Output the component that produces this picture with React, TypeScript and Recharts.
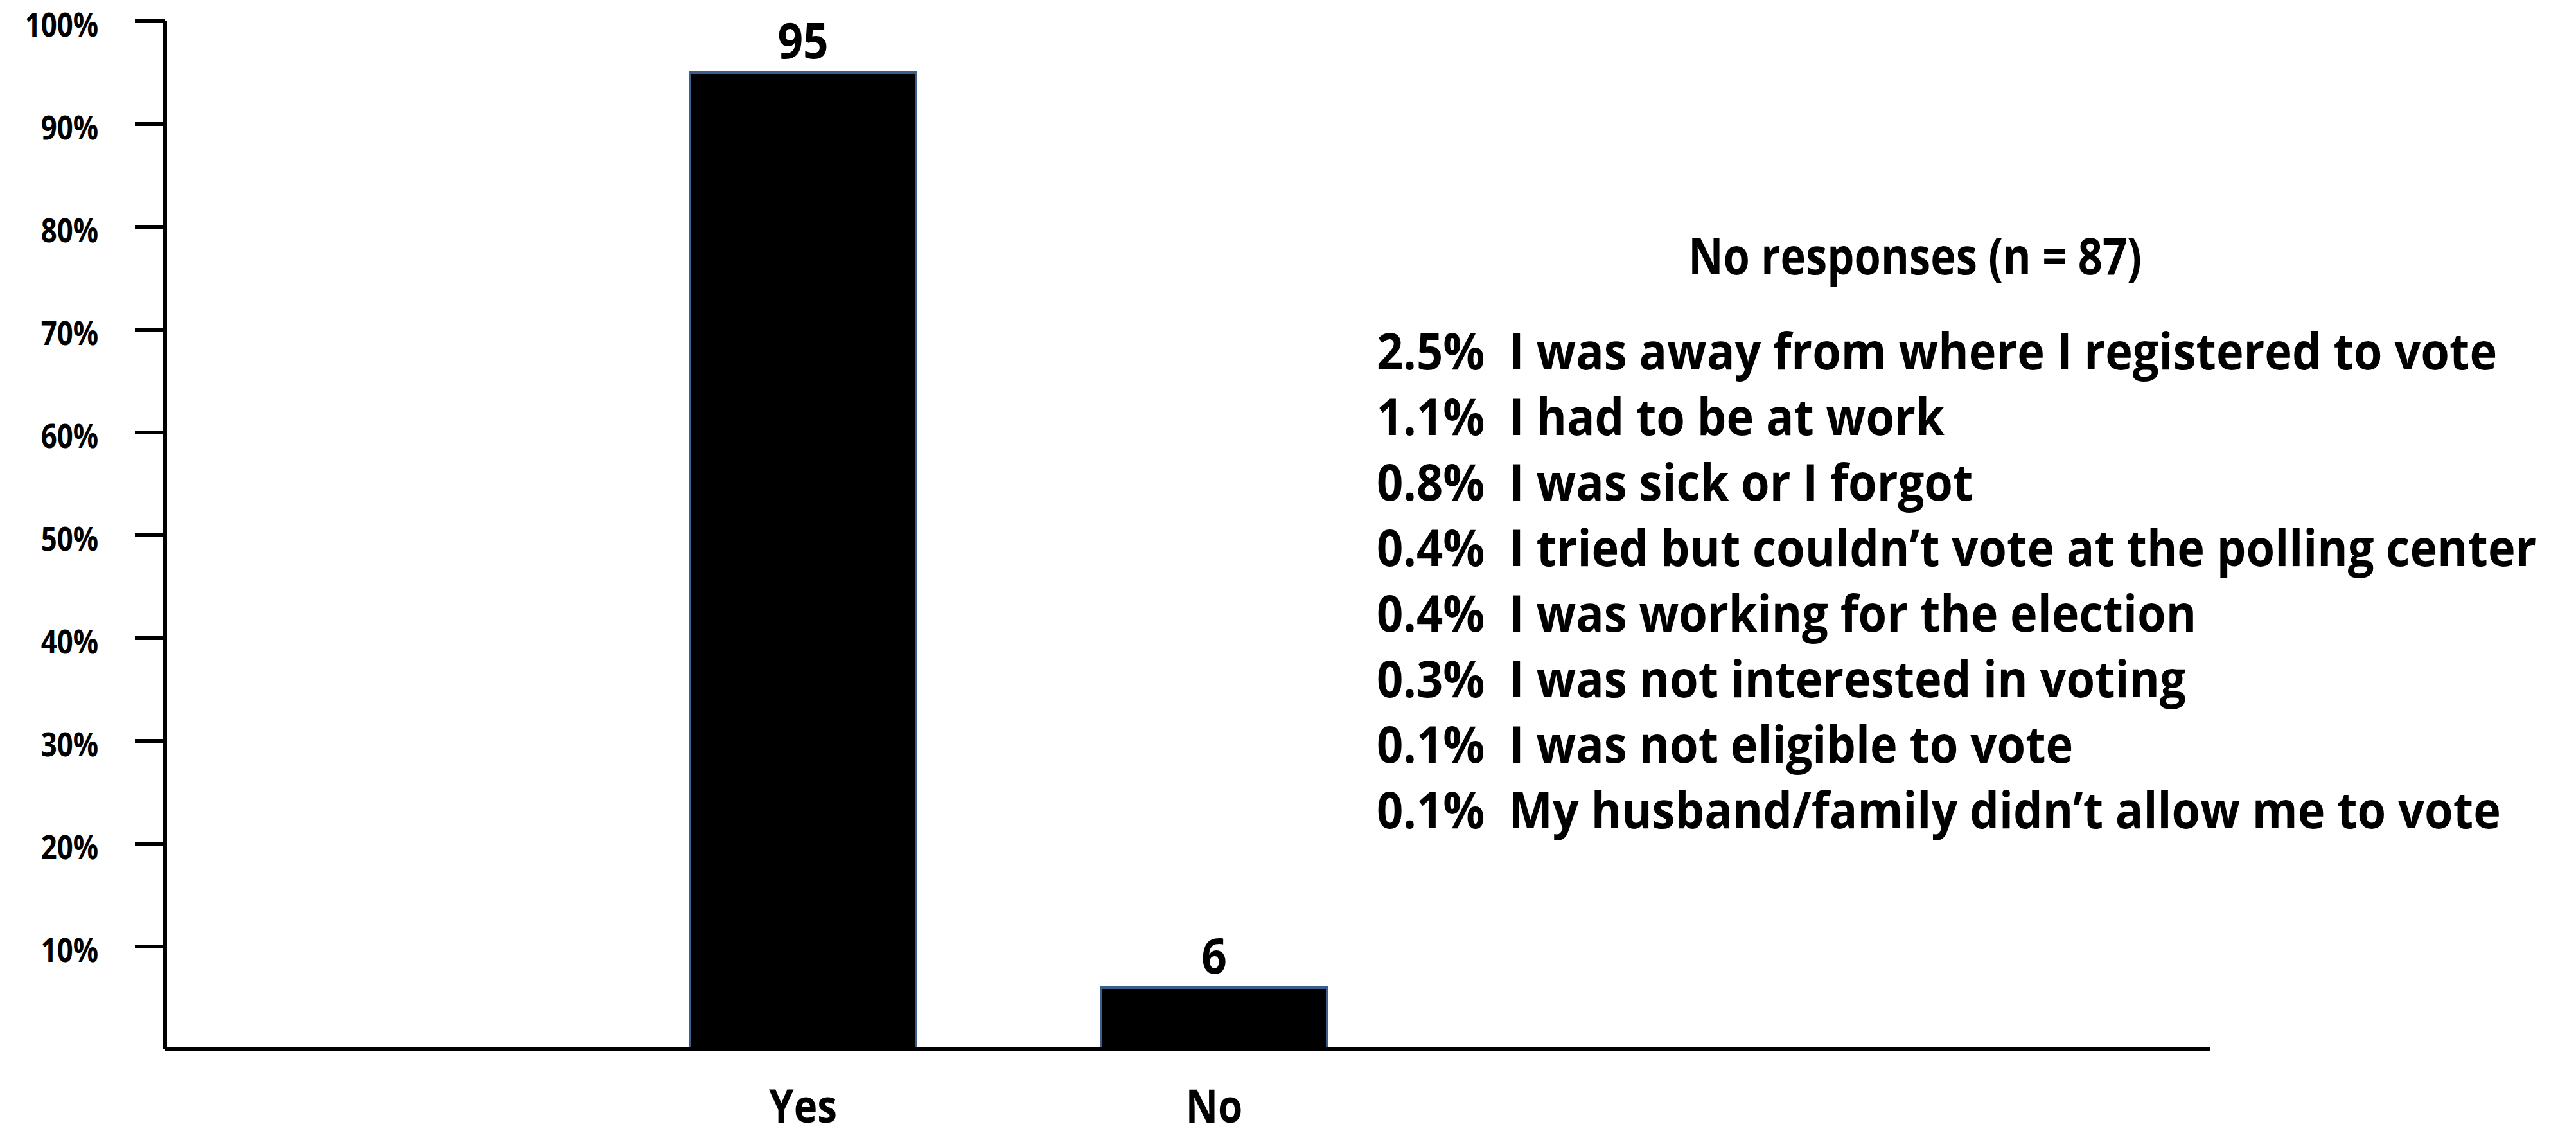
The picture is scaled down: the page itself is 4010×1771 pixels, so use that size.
import React from 'react';
import { BarChart, Bar, XAxis, YAxis, LabelList } from 'recharts';

const categories = ['Yes', 'No'];
const values = [95, 6];
const yTicks = [10, 20, 30, 40, 50, 60, 70, 80, 90, 100];
const noteTitle = 'No responses (n = 87)';
const reasonPcts = ['2.5%', '1.1%', '0.8%', '0.4%', '0.4%', '0.3%', '0.1%', '0.1%'];
const reasonTexts = [
  'I was away from where I registered to vote',
  'I had to be at work',
  'I was sick or I forgot',
  'I tried but couldn\u2019t vote at the polling center',
  'I was working for the election',
  'I was not interested in voting',
  'I was not eligible to vote',
  'My husband/family didn\u2019t allow me to vote',
];

const data = categories.map((c, i) => ({ name: c, value: values[i] }));

const FONT = '"Open Sans", "Liberation Sans", sans-serif';
const SX = 0.84;

const YTick = (props: any) => {
  const { x, y, payload } = props;
  return (
    <g transform={`translate(${x},${y})`}>
      <text transform={`scale(${SX},1)`} x={0} y={0} dy={24} textAnchor="end" fontFamily={FONT} fontSize={52} fontWeight={700} fill="#000">
        {payload.value}%
      </text>
    </g>
  );
};

const XTick = (props: any) => {
  const { x, y, payload } = props;
  return (
    <g transform={`translate(${x},${y})`}>
      <text transform={`scale(0.86,1)`} x={0} y={0} dy={114} textAnchor="middle" fontFamily={FONT} fontSize={72} fontWeight={700} fill="#000">
        {payload.value}
      </text>
    </g>
  );
};

const ValueLabel = (props: any) => {
  const { x, y, width, value } = props;
  const cx = x + width / 2;
  return (
    <g transform={`translate(${cx},${y})`}>
      <text transform={`scale(0.9,1)`} x={0} y={0} dy={-22} textAnchor="middle" fontFamily={FONT} fontSize={77} fontWeight={700} fill="#000">
        {value}
      </text>
    </g>
  );
};

export default function App() {
  return (
    <div style={{ position: 'absolute', left: 0, top: 0, width: 4010, height: 1771, background: '#fff' }}>
      <BarChart width={4010} height={1771} data={data} margin={{ top: 33, right: 570, bottom: 0, left: 0 }}>
        <XAxis
          dataKey="name"
          height={138}
          axisLine={{ stroke: '#000', strokeWidth: 6 }}
          tickLine={false}
          tickSize={0}
          tickMargin={0}
          padding={{ left: 673, right: 1230 }}
          tick={<XTick />}
          interval={0}
        />
        <YAxis
          width={257}
          domain={[0, 100]}
          ticks={yTicks}
          axisLine={{ stroke: '#000', strokeWidth: 6 }}
          tickLine={{ stroke: '#000', strokeWidth: 6 }}
          tickSize={47}
          tickMargin={57}
          tick={<YTick />}
          interval={0}
        />
        <Bar dataKey="value" fill="#000" stroke="#3B5E8C" strokeWidth={4} barSize={352} isAnimationActive={false}>
          <LabelList dataKey="value" content={<ValueLabel />} />
        </Bar>
      </BarChart>
      <svg width={4010} height={1771} style={{ position: 'absolute', left: 0, top: 0, pointerEvents: 'none' }}>
        <g transform={`translate(2981,427)`}>
          <text transform={`scale(0.857,1)`} textAnchor="middle" fontFamily={FONT} fontSize={78} fontWeight={700} fill="#000">
            {noteTitle}
          </text>
        </g>
        {reasonTexts.map((t, i) => (
          <g key={i} transform={`translate(2143,${575 + i * 102})`}>
            <text transform={`scale(0.926,1)`} fontFamily={FONT} fontSize={78} fontWeight={700} fill="#000" style={{ whiteSpace: 'pre' }}>
              {`${reasonPcts[i]}  ${t}`}
            </text>
          </g>
        ))}
      </svg>
    </div>
  );
}
